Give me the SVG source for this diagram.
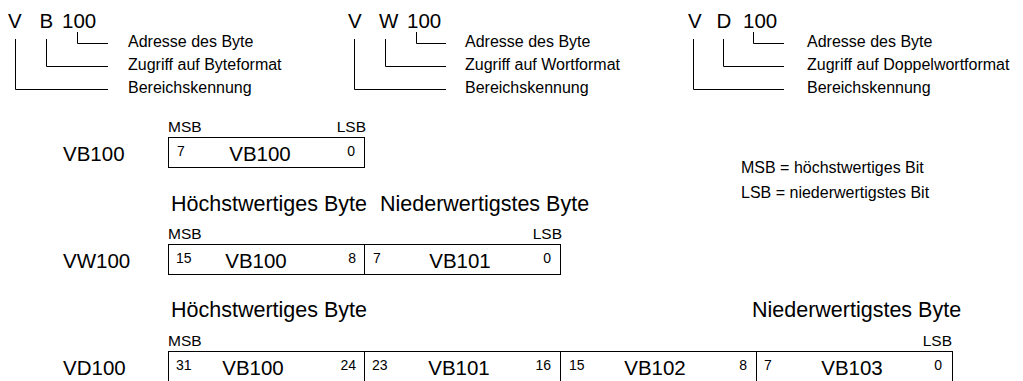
<svg xmlns="http://www.w3.org/2000/svg" width="1023" height="381" viewBox="0 0 1023 381">
<style>
text{font-family:"Liberation Sans",Arial,sans-serif;fill:#000}
.big{font-size:20.5px}
.lab{font-size:16px}
.hdr{font-size:21.5px}
.ms{font-size:15.5px}
.num{font-size:14px}
.end{text-anchor:end}
.mid{text-anchor:middle}
.cell{fill:#fff;stroke:#000;stroke-width:1}
.conn{fill:none;stroke:#000;stroke-width:1}
</style>
<g id="format-VB">
<text class="big" x="8" y="27.5">V</text>
<text class="big" x="39.5" y="27.5">B</text>
<text class="big" x="62" y="27.5">100</text>
<text class="lab" x="128" y="47">Adresse des Byte</text>
<text class="lab" x="128" y="70">Zugriff auf Byteformat</text>
<text class="lab" x="128" y="93">Bereichskennung</text>
</g>
<g id="format-VW">
<text class="big" x="348" y="27.5">V</text>
<text class="big" x="379" y="27.5">W</text>
<text class="big" x="407" y="27.5">100</text>
<text class="lab" x="465" y="47">Adresse des Byte</text>
<text class="lab" x="465" y="70">Zugriff auf Wortformat</text>
<text class="lab" x="465" y="93">Bereichskennung</text>
</g>
<g id="format-VD">
<text class="big" x="688" y="27.5">V</text>
<text class="big" x="716.5" y="27.5">D</text>
<text class="big" x="743" y="27.5">100</text>
<text class="lab" x="807" y="47">Adresse des Byte</text>
<text class="lab" x="807" y="70">Zugriff auf Doppelwortformat</text>
<text class="lab" x="807" y="93">Bereichskennung</text>
</g>
<g id="connectors">
<path class="conn" d="M15.5 39V89.5H108M46.5 39V66.5H108M77.5 32V43.5H108"/>
<path class="conn" d="M354.5 39V89.5H446M385.5 39V66.5H446M416.5 32V43.5H446"/>
<path class="conn" d="M693.5 39V89.5H784M723.5 39V66.5H784M753.5 32V43.5H784"/>
</g>
<g id="legend">
<text class="lab" x="741" y="173">MSB = höchstwertiges Bit</text>
<text class="lab" x="741" y="197.5">LSB = niederwertigstes Bit</text>
</g>
<g id="row-VB100">
<text class="big" x="63" y="161">VB100</text>
<text class="ms" x="168" y="132">MSB</text>
<text class="ms end" x="366" y="132">LSB</text>
<g id="vb-cell-VB100">
<rect class="cell" x="168.5" y="137.5" width="196" height="30"/>
<text class="num" x="177" y="156">7</text>
<text class="big mid" x="260" y="161">VB100</text>
<text class="num end" x="355" y="156">0</text>
</g>
</g>
<g id="row-VW100">
<text class="hdr" x="171" y="211">Höchstwertiges Byte</text>
<text class="hdr" x="380" y="211">Niederwertigstes Byte</text>
<text class="big" x="63" y="268">VW100</text>
<text class="ms" x="168" y="239">MSB</text>
<text class="ms end" x="562" y="239">LSB</text>
<g id="vw-cell-VB100">
<rect class="cell" x="168.5" y="244.5" width="196" height="30"/>
<text class="num" x="176" y="263">15</text>
<text class="big mid" x="256" y="268">VB100</text>
<text class="num end" x="356" y="263">8</text>
</g>
<g id="vw-cell-VB101">
<rect class="cell" x="364.5" y="244.5" width="196" height="30"/>
<text class="num" x="373" y="263">7</text>
<text class="big mid" x="460" y="268">VB101</text>
<text class="num end" x="551" y="263">0</text>
</g>
</g>
<g id="row-VD100">
<text class="hdr" x="171" y="317">Höchstwertiges Byte</text>
<text class="hdr" x="752" y="317">Niederwertigstes Byte</text>
<text class="big" x="63" y="375">VD100</text>
<text class="ms" x="168" y="346">MSB</text>
<text class="ms end" x="952" y="346">LSB</text>
<g id="vd-cell-VB100">
<rect class="cell" x="168.5" y="351.5" width="196" height="32"/>
<text class="num" x="176" y="370">31</text>
<text class="big mid" x="253" y="375">VB100</text>
<text class="num end" x="356" y="370">24</text>
</g>
<g id="vd-cell-VB101">
<rect class="cell" x="364.5" y="351.5" width="196" height="32"/>
<text class="num" x="372" y="370">23</text>
<text class="big mid" x="459" y="375">VB101</text>
<text class="num end" x="551" y="370">16</text>
</g>
<g id="vd-cell-VB102">
<rect class="cell" x="560.5" y="351.5" width="196" height="32"/>
<text class="num" x="569" y="370">15</text>
<text class="big mid" x="655" y="375">VB102</text>
<text class="num end" x="747" y="370">8</text>
</g>
<g id="vd-cell-VB103">
<rect class="cell" x="756.5" y="351.5" width="196" height="32"/>
<text class="num" x="764" y="370">7</text>
<text class="big mid" x="852" y="375">VB103</text>
<text class="num end" x="942" y="370">0</text>
</g>
</g>
</svg>
